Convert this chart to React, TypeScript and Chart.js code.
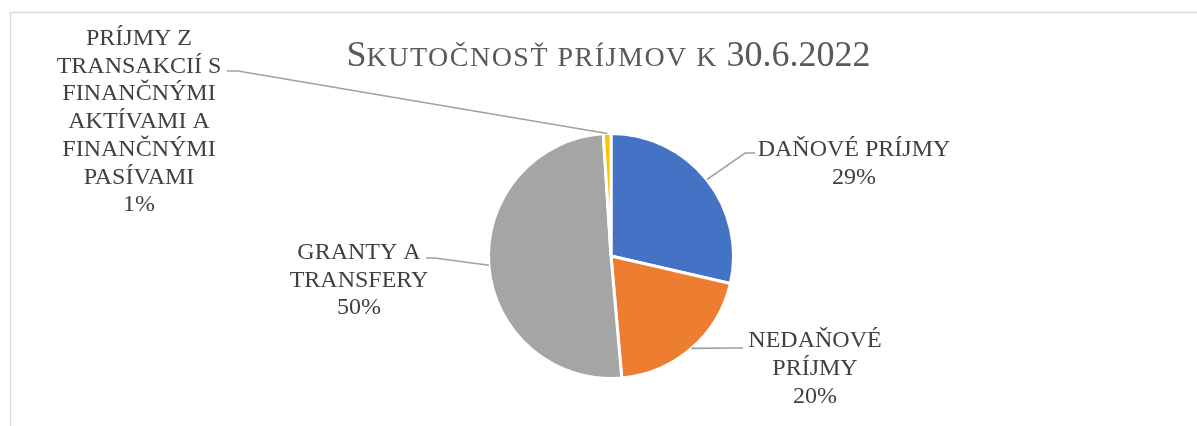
import React, { useEffect, useRef } from "react";
import { Chart, registerables } from "chart.js";

Chart.register(...registerables);

const categoryLines: string[][] = [
  ["DAŇOVÉ PRÍJMY"],
  ["NEDAŇOVÉ", "PRÍJMY"],
  ["GRANTY A", "TRANSFERY"],
  ["PRÍJMY Z", "TRANSAKCIÍ S", "FINANČNÝMI", "AKTÍVAMI A", "FINANČNÝMI", "PASÍVAMI"],
];
const values: number[] = [28.6, 20.0, 50.4, 1.0];
const colors: string[] = ["#4472C4", "#ED7D31", "#A5A5A5", "#FFC000"];

const titleFirst = "S";
const titleSmallCaps = "KUTOČNOSŤ PRÍJMOV K ";
const titleRest = "30.6.2022";

// label placement (canvas coordinates), kept separate from data
const labelLayout = [
  { cx: 854, base: 156, lh: 27.5, elbow: [745, 153], end: [755, 153] },
  { cx: 815, base: 347, lh: 28, elbow: [733, 348], end: [743, 348] },
  { cx: 359, base: 259, lh: 27.5, elbow: [435, 258], end: [426, 258] },
  { cx: 139, base: 45, lh: 27.7, elbow: [238, 71], end: [227, 71] },
];

const SERIF = '"Liberation Serif", "Times New Roman", serif';

const decorPlugin = {
  id: "decor",
  beforeDraw(chart: any) {
    const ctx = chart.ctx;
    ctx.save();
    ctx.fillStyle = "#ffffff";
    ctx.fillRect(0, 0, chart.width, chart.height);
    ctx.strokeStyle = "#d9d9d9";
    ctx.lineWidth = 1.5;
    ctx.beginPath();
    ctx.moveTo(10.5, chart.height);
    ctx.lineTo(10.5, 12.5);
    ctx.lineTo(chart.width, 12.5);
    ctx.stroke();
    ctx.restore();
  },
  afterDraw(chart: any) {
    const ctx = chart.ctx;
    ctx.save();
    // title
    const big = `36px ${SERIF}`;
    const small = `28px ${SERIF}`;
    ctx.textBaseline = "alphabetic";
    ctx.textAlign = "left";
    ctx.fillStyle = "#595959";
    const hasLS = "letterSpacing" in ctx;
    ctx.font = big;
    const w1 = ctx.measureText(titleFirst).width;
    const w3 = ctx.measureText(titleRest).width;
    ctx.font = small;
    if (hasLS) (ctx as any).letterSpacing = "1.5px";
    const w2 = ctx.measureText(titleSmallCaps).width;
    if (hasLS) (ctx as any).letterSpacing = "0px";
    const total = w1 + w2 + w3;
    let x = 608.5 - total / 2;
    const ty = 66;
    ctx.font = big;
    ctx.fillText(titleFirst, x, ty);
    x += w1;
    ctx.font = small;
    if (hasLS) (ctx as any).letterSpacing = "1.5px";
    ctx.fillText(titleSmallCaps, x, ty);
    if (hasLS) (ctx as any).letterSpacing = "0px";
    x += w2;
    ctx.font = big;
    ctx.fillText(titleRest, x, ty);

    // labels + leader lines
    const meta = chart.getDatasetMeta(0);
    const sum = values.reduce((a, b) => a + b, 0);
    meta.data.forEach((arc: any, i: number) => {
      const p = arc.getProps(["x", "y", "startAngle", "endAngle", "outerRadius"], true);
      const mid = (p.startAngle + p.endAngle) / 2;
      const ax = p.x + Math.cos(mid) * p.outerRadius;
      const ay = p.y + Math.sin(mid) * p.outerRadius;
      const L = labelLayout[i];
      ctx.strokeStyle = "#a0a0a0";
      ctx.lineWidth = 1.6;
      ctx.beginPath();
      ctx.moveTo(ax, ay);
      ctx.lineTo(L.elbow[0], L.elbow[1]);
      ctx.lineTo(L.end[0], L.end[1]);
      ctx.stroke();

      const lines = [...categoryLines[i], Math.round((values[i] / sum) * 100) + "%"];
      ctx.font = `24px ${SERIF}`;
      ctx.fillStyle = "#404040";
      ctx.textAlign = "center";
      lines.forEach((t, k) => {
        ctx.fillText(t, L.cx, L.base + k * L.lh);
      });
    });
    ctx.restore();
  },
};

export default function App() {
  const ref = useRef<HTMLCanvasElement | null>(null);
  useEffect(() => {
    document.body.style.margin = "0";
    if (!ref.current) return;
    const chart = new Chart(ref.current, {
      type: "pie",
      data: {
        labels: categoryLines.map((l) => l.join(" ")),
        datasets: [
          {
            data: values,
            backgroundColor: colors,
            borderColor: "#ffffff",
            borderWidth: 3,
          },
        ],
      },
      options: {
        responsive: false,
        animation: false,
        layout: { padding: { left: 487, right: 462, top: 132, bottom: 46 } },
        plugins: {
          legend: { display: false },
          tooltip: { enabled: false },
          title: { display: false },
        },
      },
      plugins: [decorPlugin],
    });
    return () => chart.destroy();
  }, []);
  return (
    <div style={{ width: 1197, height: 426 }}>
      <canvas ref={ref} width={1197} height={426} style={{ display: "block" }} />
    </div>
  );
}
